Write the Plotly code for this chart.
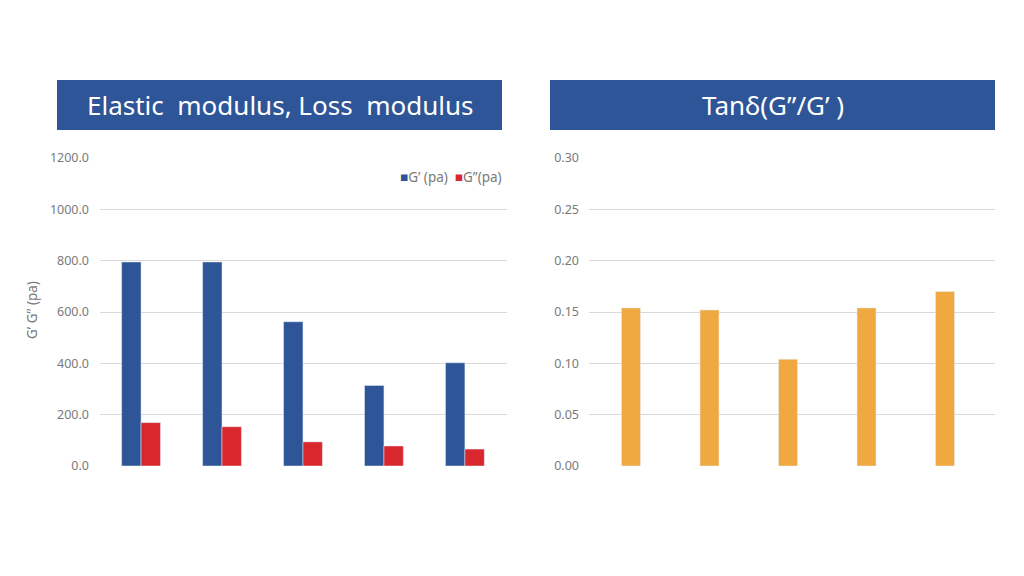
import plotly.graph_objects as go

categories = ["1", "2", "3", "4", "5"]
g_prime = [795, 795, 562, 314, 402]
g_double = [169, 153, 94, 78, 66]
tan_delta = [0.154, 0.152, 0.104, 0.154, 0.170]

left_ticks = [0, 200, 400, 600, 800, 1000, 1200]
left_ticktext = ["0.0", "200.0", "400.0", "600.0", "800.0", "1000.0", "1200.0"]
right_ticks = [0, 0.05, 0.10, 0.15, 0.20, 0.25, 0.30]
right_ticktext = ["0.00", "0.05", "0.10", "0.15", "0.20", "0.25", "0.30"]

BLUE = "#2E5597"
RED = "#D9272E"
ORANGE = "#F0A941"
GRID = "#D9D9D9"
TICK = "#7A7A7A"
FONT = "Noto Sans"

W, H = 1024, 576

fig = go.Figure()
fig.add_trace(go.Bar(x=categories, y=g_prime, name="G’ (pa)", marker_color=BLUE,
                     xaxis="x", yaxis="y", width=0.24, offset=-0.24))
fig.add_trace(go.Bar(x=categories, y=g_double, name="G”(pa)", marker_color=RED,
                     xaxis="x", yaxis="y", width=0.24, offset=0))
fig.add_trace(go.Bar(x=categories, y=tan_delta, name="Tanδ", marker_color=ORANGE,
                     xaxis="x2", yaxis="y2", width=0.242))

def px(x):
    return x / W

def py(y):
    return 1 - y / H

axis_common = dict(showgrid=True, gridcolor=GRID, gridwidth=1, zeroline=False,
                   showline=False, ticks="", automargin=False,
                   tickfont=dict(family=FONT, size=12.5, color=TICK))

fig.update_layout(
    width=W, height=H, autosize=False,
    margin=dict(l=0, r=0, t=0, b=0, pad=0),
    paper_bgcolor="white", plot_bgcolor="white",
    font=dict(family=FONT, color=TICK),
    barmode="overlay",
    showlegend=False,
    xaxis=dict(domain=[px(100), px(507)], range=[-0.507, 4.52], showticklabels=False,
               showgrid=False, zeroline=False, ticks="", type="category", automargin=False),
    yaxis=dict(domain=[py(466), py(158)], range=[0, 1200], tickvals=left_ticks,
               ticktext=left_ticktext, anchor="x", ticklabelstandoff=10, **axis_common),
    xaxis2=dict(domain=[px(589), px(995)], range=[-0.535, 4.637], showticklabels=False,
                showgrid=False, zeroline=False, ticks="", type="category", anchor="y2",
                automargin=False),
    yaxis2=dict(domain=[py(466), py(158)], range=[0, 0.30], tickvals=right_ticks,
                ticktext=right_ticktext, anchor="x2", ticklabelstandoff=9, **axis_common),
)

# y-axis title of left chart
fig.add_annotation(xref="paper", yref="paper", x=px(32), y=py(310), text="G’ G” (pa)",
                   textangle=-90, showarrow=False, xanchor="center", yanchor="middle",
                   font=dict(family=FONT, size=13.5, color=TICK))

# legend for left chart
fig.add_annotation(xref="paper", yref="paper", x=px(504), y=py(177),
                   text=(f"<span style='color:{BLUE}'>■</span>G’ (pa)  "
                         f"<span style='color:{RED}'>■</span>G”(pa)"),
                   showarrow=False, xanchor="right", yanchor="middle",
                   font=dict(family=FONT, size=13.5, color=TICK))

# title banners
for x0, x1, text in [(57, 502, "Elastic  modulus, Loss  modulus"), (550, 995, "Tanδ(G”/G’ )")]:
    fig.add_shape(type="rect", xref="paper", yref="paper",
                  x0=px(x0), x1=px(x1), y0=py(130), y1=py(80),
                  fillcolor=BLUE, line=dict(width=0), layer="above")
    fig.add_annotation(xref="paper", yref="paper", x=px((x0 + x1) / 2), y=py(105),
                       text=text, showarrow=False, xanchor="center", yanchor="middle",
                       font=dict(family=FONT, size=26, color="white"))

fig.write_html("out.html")
